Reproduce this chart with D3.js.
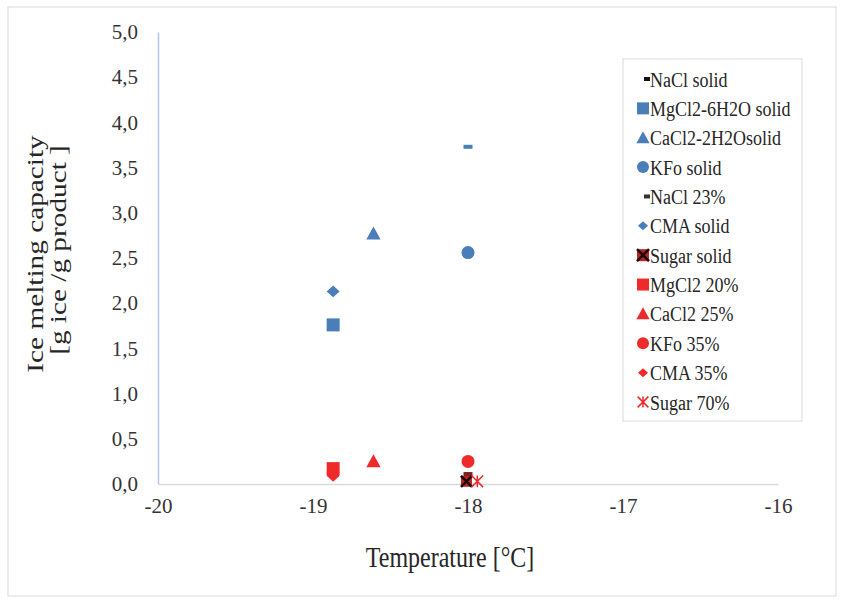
<!DOCTYPE html>
<html><head><meta charset="utf-8">
<script src="https://cdn.jsdelivr.net/npm/d3@7"></script>
<style>body{margin:0;background:#fff}svg{display:block}text{font-family:"Liberation Serif","Times New Roman",serif}</style>
</head><body>
<script>
const seriesNames = ["NaCl solid","MgCl2-6H2O solid","CaCl2-2H2Osolid","KFo solid","NaCl 23%","CMA solid","Sugar solid","MgCl2 20%","CaCl2 25%","KFo 35%","CMA 35%","Sugar 70%"];
const seriesX = [-18.0, -18.87, -18.61, -18.0, -18.0, -18.87, -18.01, -18.87, -18.61, -18.0, -18.87, -17.94];
const seriesY = [3.73, 1.76, 2.77, 2.56, 0.11, 2.13, 0.03, 0.17, 0.25, 0.25, 0.09, 0.03];
const seriesShape = ["dash","square","triangle","circle","dash","diamond","xsquare","square","triangle","circle","diamond","asterisk"];
const plotColors = ["#4a7ebb","#4a7ebb","#4a7ebb","#4a7ebb","#7a2020","#4a7ebb","#7a1010","#ee2a2a","#ee2a2a","#ee2a2a","#ee2a2a","#ee2a2a"];
const legendColors = ["#111111","#4a7ebb","#4a7ebb","#4a7ebb","#333333","#4a7ebb","#7a1010","#ee2a2a","#ee2a2a","#ee2a2a","#ee2a2a","#ee2a2a"];
const xTicks = [-20,-19,-18,-17,-16];
const yTicks = [0,0.5,1,1.5,2,2.5,3,3.5,4,4.5,5];

const W=843,H=602;
const svg=d3.select("body").append("svg").attr("width",W).attr("height",H);
svg.append("rect").attr("x",8).attr("y",7).attr("width",828).attr("height",589).attr("fill","#fff").attr("stroke","#d9d9d9");

const x=d3.scaleLinear().domain([-20,-16]).range([158,778]);
const y=d3.scaleLinear().domain([0,5]).range([484,32]);
const font='"Liberation Serif","Times New Roman",serif';
const txt="#333333";

const xa=svg.append("g").attr("transform","translate(0,484)").call(d3.axisBottom(x).tickValues(xTicks).tickSize(0).tickPadding(14).tickFormat(d=>d));
xa.attr("font-family",null);
xa.select(".domain").attr("stroke","#d9d9d9").attr("stroke-width",1.5);
xa.selectAll("text").style("font-family",font).style("font-size","21px").attr("fill",txt);

const ya=svg.append("g").attr("transform","translate(158,0)").call(d3.axisLeft(y).tickValues(yTicks).tickSize(0).tickPadding(20).tickFormat(d=>d3.format(".1f")(d).replace(".",",")));
ya.attr("font-family",null);
ya.select(".domain").attr("stroke","#b4c7e7").attr("stroke-width",1.5);
ya.selectAll("text").style("font-family",font).style("font-size","21px").attr("fill",txt);
xa.raise();

svg.append("text").attr("transform","translate(450,567) scale(1,1.22)").attr("text-anchor","middle").style("font-family",font).style("font-size","24px").attr("fill","#262626").text("Temperature [°C]");
svg.append("text").attr("transform","translate(43,254) rotate(-90) scale(1.22,1)").attr("text-anchor","middle").style("font-family",font).style("font-size","24px").attr("fill","#262626").text("Ice melting capacity");
svg.append("text").attr("transform","translate(66,250) rotate(-90) scale(1.22,1)").attr("text-anchor","middle").style("font-family",font).style("font-size","24px").attr("fill","#262626").text("[g ice /g product ]");

function drawMarker(g,shape,color,s){
  if(shape==="dash"){g.append("rect").attr("x",-s*0.5).attr("y",-2).attr("width",s).attr("height",4).attr("fill",color);}
  else if(shape==="square"){g.append("rect").attr("x",-s/2).attr("y",-s/2).attr("width",s).attr("height",s).attr("fill",color);}
  else if(shape==="triangle"){g.append("path").attr("d",`M0,${-s*0.55}L${s*0.55},${s*0.45}L${-s*0.55},${s*0.45}Z`).attr("fill",color);}
  else if(shape==="circle"){g.append("circle").attr("r",s*0.5).attr("fill",color);}
  else if(shape==="diamond"){g.append("path").attr("d",`M0,${-s*0.45}L${s*0.5},0L0,${s*0.45}L${-s*0.5},0Z`).attr("fill",color);}
  else if(shape==="xsquare"){g.append("rect").attr("x",-s/2).attr("y",-s/2).attr("width",s).attr("height",s).attr("fill","#b02828");
    g.append("path").attr("d",`M${-s/2},${-s/2}L${s/2},${s/2}M${s/2},${-s/2}L${-s/2},${s/2}`).attr("stroke","#200000").attr("stroke-width",2.5);}
  else if(shape==="asterisk"){const r=s*0.45;g.append("path").attr("d",`M${-r},${-r}L${r},${r}M${r},${-r}L${-r},${r}M0,${-r}L0,${r}`).attr("stroke",color).attr("stroke-width",1.5);}
}

const idx=d3.range(seriesNames.length);
const pts=svg.append("g");
idx.forEach(i=>{
  const g=pts.append("g").attr("transform",`translate(${x(seriesX[i])},${y(seriesY[i])})`);
  drawMarker(g,seriesShape[i],plotColors[i],seriesShape[i]==="dash"?9:(seriesShape[i]==="xsquare"?11:13));
});

// legend
const lg=svg.append("g");
lg.append("rect").attr("x",623).attr("y",59).attr("width",179).attr("height",362).attr("fill","#fff").attr("stroke","#d9d9d9");
const ly=d3.scalePoint().domain(idx).range([79,402]);
idx.forEach(i=>{
  const sh=seriesShape[i];
  const g=lg.append("g").attr("transform",`translate(${sh==="dash"?647:643},${ly(i)})`);
  drawMarker(g,sh,legendColors[i],sh==="dash"?6:(sh==="diamond"?10:12));
  lg.append("text").attr("transform",`translate(650,${ly(i)}) scale(1,1.2)`).attr("dy","0.35em").style("font-family",font).style("font-size","18px").attr("fill","#262626").text(seriesNames[i]);
});
</script>
</body></html>
